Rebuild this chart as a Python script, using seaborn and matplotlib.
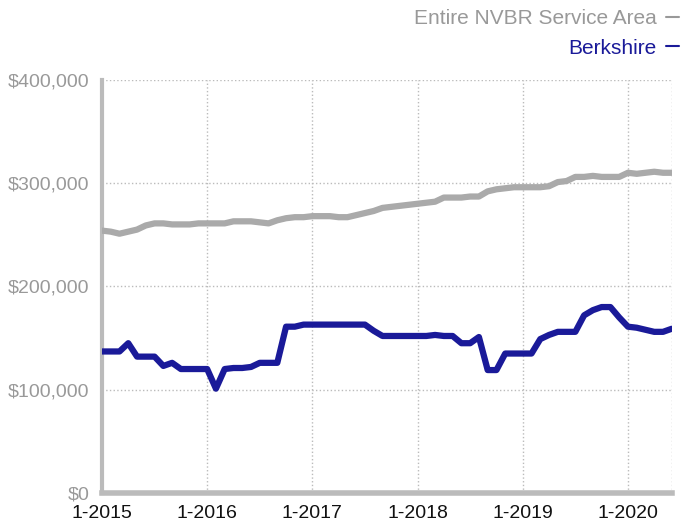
import numpy as np
import pandas as pd
import matplotlib.pyplot as plt
import seaborn as sns
from matplotlib.ticker import FuncFormatter

# monthly median sale price, 1-2015 .. 6-2020
months = pd.date_range('2015-01-01', '2020-06-01', freq='MS')
nvbr = [254, 253, 251, 253, 255, 259, 261, 261, 260, 260, 260, 261,
        261, 261, 261, 263, 263, 263, 262, 261, 264, 266, 267, 267,
        268, 268, 268, 267, 267, 269, 271, 273, 276, 277, 278, 279,
        280, 281, 282, 286, 286, 286, 287, 287, 292, 294, 295, 296,
        296, 296, 296, 297, 301, 302, 306, 306, 307, 306, 306, 306,
        310, 309, 310, 311, 310, 310]
berkshire = [137, 137, 137, 145, 132, 132, 132, 123, 126, 120, 120, 120,
             120, 101, 120, 121, 121, 122, 126, 126, 126, 161, 161, 163,
             163, 163, 163, 163, 163, 163, 163, 157, 152, 152, 152, 152,
             152, 152, 153, 152, 152, 145, 145, 151, 119, 119, 135, 135,
             135, 135, 149, 153, 156, 156, 156, 172, 177, 180, 180, 170,
             161, 160, 158, 156, 156, 159]
series_names = ['Entire NVBR Service Area', 'Berkshire']
colors = ['#aaaaaa', '#1a1a99']
year_labels = ['1-2015', '1-2016', '1-2017', '1-2018', '1-2019', '1-2020']

idx = np.arange(len(months))
df = pd.DataFrame({
    'm': np.concatenate([idx, idx]),
    'price': np.array(nvbr + berkshire) * 1000,
    'area': [series_names[0]] * len(idx) + [series_names[1]] * len(idx),
})

sns.set_style('white')
plt.rcParams['font.family'] = ['Liberation Sans', 'DejaVu Sans']

fig = plt.figure(figsize=(6.89, 5.23), dpi=100)
ax = fig.add_axes([0.148, 0.0574, 0.827, 0.790])

sns.lineplot(data=df, x='m', y='price', hue='area', hue_order=series_names,
             palette=colors, linewidth=4.5, ax=ax, legend=False, zorder=3)

ax.set_xlim(0, len(idx) - 1)
ax.set_ylim(0, 400000)
ax.set_xticks(idx[::12])
ax.set_xticklabels(year_labels, fontsize=14, color='#111111')
ax.set_xticks([len(idx) - 1], minor=True)
ax.set_yticks(np.arange(0, 400001, 100000))
ax.yaxis.set_major_formatter(FuncFormatter(lambda v, p: '${:,.0f}'.format(v)))
ax.tick_params(axis='y', length=0, labelsize=14, labelcolor='#999999', pad=9)
ax.tick_params(axis='x', which='major', length=4, width=3, color='#bbbbbb',
               pad=5, direction='out')
ax.tick_params(axis='x', which='minor', length=0)
ax.set_xlabel('')
ax.set_ylabel('')

ax.grid(True, which='both', linestyle=':', color='#bbbbbb', linewidth=1)
for s in ['top', 'right']:
    ax.spines[s].set_visible(False)
ax.spines['left'].set_color('#bbbbbb')
ax.spines['left'].set_linewidth(3)
ax.spines['bottom'].set_color('#bbbbbb')
ax.spines['bottom'].set_linewidth(4)
ax.spines['bottom'].set_zorder(4)

handles = [plt.Line2D([], [], color=c, linewidth=1.5) for c in colors]
leg = fig.legend(handles, series_names, loc='upper right',
                 bbox_to_anchor=(1.012, 1.018), frameon=False, markerfirst=False,
                 handlelength=0.6, handletextpad=0.45, labelspacing=0.5,
                 fontsize=15, labelcolor=colors)
leg.texts[0].set_color('#999999')
leg.legend_handles[0].set_color('#999999')

fig.savefig('out.png', dpi=100)
